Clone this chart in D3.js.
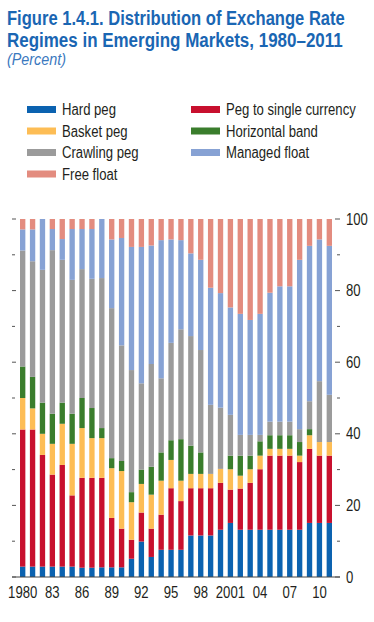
<!DOCTYPE html>
<html lang="en">
	<head>
		<meta charset="utf-8">
		<title>D3: Exchange Rate Regimes</title>
		<script type="text/javascript" src="https://cdn.jsdelivr.net/npm/d3@7"></script>
		<style type="text/css">
		body {
			margin: 0;
			background: #fff;
		}
		text {
			font-family: "Liberation Sans", Arial, sans-serif;
		}
		</style>
	</head>
	<body>
		<script type="text/javascript">

		//Width and height
		var w = 374;
		var h = 622;

		var years = d3.range(1980, 2012);
		var yearLabels = ["1980", "83", "86", "89", "92", "95", "98", "2001", "04", "07", "10"];

		var seriesNames = ["Hard peg", "Peg to single currency", "Basket peg", "Horizontal band",
			"Crawling peg", "Managed float", "Free float"];
		var seriesColors = ["#0b62b0", "#c8102e", "#fdbd55", "#3a7d2c", "#9b9b9b", "#87a2d4", "#e38c7f"];

		//percent of countries, 1980..2011
		var hardPeg = [2.9, 2.9, 2.9, 2.9, 2.9, 2.9, 2.6, 2.6, 2.7, 2.7, 2.7, 5.1, 9.9, 5.6, 7.6, 7.6,
			7.6, 11.6, 11.6, 11.6, 13.2, 15.1, 13.2, 13.2, 13.2, 13.2, 13.2, 13.2, 13.2, 15.1, 15.1, 15.1];
		var singlePeg = [38.3, 38.3, 31.2, 25.7, 28.4, 19.9, 25.1, 25.1, 25.0, 13.8, 10.8, 5.3, 8.1, 7.9, 9.8, 17.2,
			13.6, 13.2, 13.2, 13.2, 13.1, 9.3, 11.5, 13.1, 16.9, 20.7, 20.7, 20.7, 18.9, 20.7, 18.8, 18.8];
		var basketPeg = [8.8, 5.9, 5.9, 8.6, 11.5, 14.4, 13.9, 11.1, 11.1, 13.9, 16.1, 10.5, 8.0, 9.5, 9.5, 7.9,
			5.7, 4.0, 4.0, 4.0, 3.9, 5.7, 3.6, 3.8, 3.8, 1.9, 1.9, 1.9, 1.8, 3.8, 3.8, 3.8];
		var horizBand = [8.8, 8.8, 8.7, 8.4, 5.9, 8.4, 8.4, 8.4, 2.8, 2.8, 2.8, 2.8, 4.0, 7.8, 7.9, 5.5,
			11.6, 7.9, 6.0, 0, 0, 3.8, 5.6, 3.8, 4.0, 3.8, 3.8, 3.8, 3.8, 1.7, 0, 0];
		var crawlingPeg = [32.4, 32.3, 37.1, 45.7, 39.9, 37.4, 36.0, 36.1, 41.9, 41.9, 32.3, 34.1, 24.1, 28.7, 20.7, 27.2,
			30.7, 30.6, 28.6, 19.3, 17.1, 11.4, 5.8, 5.8, 1.8, 3.8, 3.8, 3.8, 3.6, 7.8, 17.0, 13.2];
		var managedFloat = [5.9, 8.9, 14.2, 5.9, 5.8, 14.2, 11.2, 13.9, 16.5, 19.2, 30.0, 34.4, 38.1, 33.1, 38.6, 28.9,
			24.9, 23.1, 25.2, 32.7, 32.0, 30.0, 33.8, 32.1, 33.8, 36.0, 37.8, 37.8, 47.3, 43.4, 39.6, 41.6];
		var freeFloat = [2.9, 2.9, 0, 2.8, 5.6, 2.8, 2.8, 2.8, 0, 5.7, 5.3, 7.8, 7.8, 7.4, 5.9, 5.7,
			5.9, 9.6, 11.4, 19.2, 20.7, 24.7, 26.5, 28.2, 26.5, 20.6, 18.8, 18.8, 11.4, 7.5, 5.7, 7.5];

		var allSeries = [hardPeg, singlePeg, basketPeg, horizBand, crawlingPeg, managedFloat, freeFloat];

		//build rows for d3.stack
		var rows = years.map(function(y, i) {
			var r = { year: y };
			seriesNames.forEach(function(n, j) { r[n] = allSeries[j][i]; });
			return r;
		});

		//narrow font is not there, so squeeze the text sideways
		var squeeze = function(sel, k) {
			sel.attr("transform", function() {
				var t = d3.select(this);
				var tx = +t.attr("x"), ty = +t.attr("y");
				t.attr("x", 0).attr("y", 0);
				return "translate(" + tx + "," + ty + ") scale(" + k + ",1)";
			});
		};

		//squeeze a text so it spans a given width
		var fitWidth = function(sel, target) {
			var len = sel.node().getComputedTextLength();
			squeeze(sel, target / len);
		};

		var svg = d3.select("body")
			.append("svg")
			.attr("width", w)
			.attr("height", h);

		var blue = "#1a66b3";

		//title
		svg.append("text")
			.attr("x", 7).attr("y", 25)
			.style("font-weight", "bold").style("font-size", "21px")
			.style("fill", blue)
			.text("Figure 1.4.1. Distribution of Exchange Rate")
			.call(fitWidth, 338);
		svg.append("text")
			.attr("x", 7).attr("y", 47)
			.style("font-weight", "bold").style("font-size", "21px")
			.style("fill", blue)
			.text("Regimes in Emerging Markets, 1980\u20132011")
			.call(fitWidth, 336);
		svg.append("text")
			.attr("x", 7).attr("y", 65)
			.style("font-style", "italic").style("font-size", "16.5px")
			.style("fill", "#3a78be")
			.text("(Percent)")
			.call(fitWidth, 59);

		//legend, two columns
		var legendOrder = [0, 2, 4, 6, 1, 3, 5];
		var legend = svg.selectAll("g.legend")
			.data(legendOrder)
			.enter()
			.append("g")
			.attr("class", "legend")
			.attr("transform", function(d, i) {
				var col = i < 4 ? 0 : 1;
				var row = i < 4 ? i : i - 4;
				return "translate(" + (27 + col * 164) + "," + (109.5 + row * 21.5) + ")";
			});
		legend.append("rect")
			.attr("x", 0).attr("y", -3.5)
			.attr("width", 29).attr("height", 7)
			.style("fill", function(d) { return seriesColors[d]; });
		legend.append("text")
			.attr("x", 35).attr("y", 5.5)
			.style("font-size", "16px")
			.style("fill", "#231f20")
			.text(function(d) { return seriesNames[d]; })
			.call(squeeze, 0.82);

		//scales
		var x = d3.scaleBand()
			.domain(years)
			.range([12, 340])
			.paddingInner(0.46)
			.paddingOuter(0.81);

		var y = d3.scaleLinear()
			.domain([0, 100])
			.range([577, 219]);

		var stack = d3.stack().keys(seriesNames);
		var layers = stack(rows);

		svg.selectAll("g.layer")
			.data(layers)
			.enter()
			.append("g")
			.attr("class", "layer")
			.style("fill", function(d, i) { return seriesColors[i]; })
			.selectAll("rect")
			.data(function(d) { return d; })
			.enter()
			.append("rect")
			.attr("x", function(d) { return x(d.data.year); })
			.attr("width", x.bandwidth())
			.attr("y", function(d) { return y(d[1]); })
			.attr("height", function(d) { return y(d[0]) - y(d[1]); });

		//baseline
		svg.append("line")
			.attr("x1", 12).attr("x2", 340)
			.attr("y1", y(0)).attr("y2", y(0))
			.style("stroke", "#444").style("stroke-width", 1);

		//right axis ticks and labels
		var ticks = d3.range(0, 101, 10);
		svg.selectAll("line.rtick")
			.data(ticks)
			.enter()
			.append("line")
			.attr("class", "rtick")
			.attr("x1", function(d) { return d % 20 == 0 ? 335 : 337; })
			.attr("x2", 340)
			.attr("y1", function(d) { return y(d); })
			.attr("y2", function(d) { return y(d); })
			.style("stroke", "#555").style("stroke-width", 1);

		//left ticks
		svg.selectAll("line.ltick")
			.data(ticks)
			.enter()
			.append("line")
			.attr("class", "ltick")
			.attr("x1", 12)
			.attr("x2", function(d) { return d % 20 == 0 ? 16 : 15; })
			.attr("y1", function(d) { return y(d); })
			.attr("y2", function(d) { return y(d); })
			.style("stroke", "#555").style("stroke-width", 1);

		svg.selectAll("text.ylab")
			.data(ticks.filter(function(d) { return d % 20 == 0; }))
			.enter()
			.append("text")
			.attr("class", "ylab")
			.attr("x", 346)
			.attr("y", function(d) { return y(d) + 5.5; })
			.style("font-size", "16px")
			.style("fill", "#231f20")
			.text(function(d) { return d; })
			.call(squeeze, 0.82);

		//x labels, every third year
		svg.selectAll("text.xlab")
			.data(yearLabels)
			.enter()
			.append("text")
			.attr("class", "xlab")
			.attr("x", function(d, i) { return x(1980 + i * 3) + x.bandwidth() / 2; })
			.attr("y", 598)
			.attr("text-anchor", "middle")
			.style("font-size", "16px")
			.style("fill", "#231f20")
			.text(function(d) { return d; })
			.call(squeeze, 0.82);

		</script>
	</body>
</html>
